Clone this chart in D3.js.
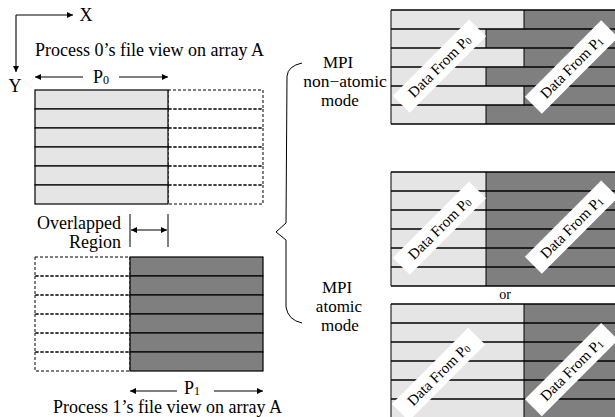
<!DOCTYPE html>
<html lang="en">
<head>
<meta charset="UTF-8">
<title>MPI atomic vs non-atomic file views</title>
<script src="https://d3js.org/d3.v7.min.js"></script>
<style>
  body { margin: 0; background: #fff; }
  svg text { font-family: "Liberation Serif", "Times New Roman", "DejaVu Serif", serif; fill: #000; }
</style>
</head>
<body>
<svg id="fig" width="615" height="417" font-family="Liberation Serif, Times New Roman, serif"></svg>
<script>
// array A: 12 columns x 6 rows, P0 covers columns 0..7, P1 covers 5..12
const nCols = 12;
const nRows = 6;
const p0Span = [0, 7];
const p1Span = [5, 12];
// who owns the overlapped columns in each row (0 = P0, 1 = P1)
const nonAtomicOwner = [0, 1, 0, 1, 0, 1];
const atomicOwnerA = [1, 1, 1, 1, 1, 1];
const atomicOwnerB = [0, 0, 0, 0, 0, 0];
// label centres in (column, row) units for each result grid
const labelSpots = [
  [[2.55, 2.95], [9.5, 3.0]],
  [[2.55, 2.95], [9.5, 2.9]],
  [[2.5, 3.7], [9.5, 3.45]]
];

const light = "#e5e5e5", dark = "#7f7f7f";
const svg = d3.select("#fig");
const x = d3.scaleLinear().domain([0, nCols]).range([0, 228]);
const y = d3.scaleLinear().domain([0, nRows]).range([0, 114]);

const defs = svg.append("defs");
defs.append("marker").attr("id", "ah")
  .attr("viewBox", "0 0 10 10").attr("refX", 10).attr("refY", 5)
  .attr("markerWidth", 10).attr("markerHeight", 6).attr("markerUnits", "userSpaceOnUse")
  .attr("orient", "auto-start-reverse")
  .append("path").attr("d", "M0,0 L10,5 L0,10 z").attr("fill", "#000");

function arrow(x1, y1, x2, y2, both) {
  const p = svg.append("line").attr("x1", x1).attr("y1", y1).attr("x2", x2).attr("y2", y2)
    .attr("stroke", "#000").attr("stroke-width", 1.1).attr("marker-end", "url(#ah)");
  if (both) p.attr("marker-start", "url(#ah)");
}
function label(tx, ty, str, size, anchor) {
  return svg.append("text").attr("x", tx).attr("y", ty).attr("font-size", size)
    .attr("text-anchor", anchor || "start").text(str);
}
function pLabel(cx, ty, sub) {
  const t = svg.append("text").attr("x", cx).attr("y", ty).attr("font-size", 18).attr("text-anchor", "middle");
  t.append("tspan").text("P");
  t.append("tspan").attr("font-size", 12).attr("dy", 1).text(sub);
}

// ---- left: file views of each process
function viewGrid(ox, oy, span, fill) {
  const g = svg.append("g").attr("transform", `translate(${ox},${oy})`);
  const rows = d3.range(nRows);
  // dashed part (outside the process view)
  const outside = span[0] === 0 ? [span[1], nCols] : [0, span[0]];
  g.selectAll("rect.out").data(rows).enter().append("rect")
    .attr("x", x(outside[0])).attr("y", d => y(d))
    .attr("width", x(outside[1]) - x(outside[0])).attr("height", y(1))
    .attr("fill", "none").attr("stroke", "#000").attr("stroke-width", 1)
    .attr("stroke-dasharray", "3,2");
  g.selectAll("rect.in").data(rows).enter().append("rect")
    .attr("x", x(span[0])).attr("y", d => y(d))
    .attr("width", x(span[1]) - x(span[0])).attr("height", y(1))
    .attr("fill", fill).attr("stroke", "#000").attr("stroke-width", 1.2);
}
viewGrid(35, 90, p0Span, light);
viewGrid(35, 257, p1Span, dark);

// axes X / Y
arrow(16, 15, 73, 15);
arrow(16, 15, 16, 72);
label(86, 21, "X", 18, "middle");
label(15, 92, "Y", 18, "middle");

label(35, 56, "Process 0\u2019s file view on array A", 18);
arrow(83, 77, 35 + x(p0Span[0]), 77);
arrow(119, 77, 35 + x(p0Span[1]), 77);
pLabel(101, 83, "0");

// overlapped region marker
const ovL = 35 + x(p1Span[0]), ovR = 35 + x(p0Span[1]);
[ovL, ovR].forEach(v => svg.append("line").attr("x1", v).attr("x2", v).attr("y1", 214).attr("y2", 247)
  .attr("stroke", "#000").attr("stroke-width", 1));
arrow(ovL + 1, 230, ovR - 1, 230, true);
label(121, 229, "Overlapped", 18, "end");
label(121, 248, "Region", 18, "end");

arrow(177, 391, ovL, 391);
arrow(214, 391, 35 + x(p1Span[1]), 391);
pLabel(192, 394, "1");
label(53, 413, "Process 1\u2019s file view on array A", 18);

// ---- brace and mode labels
svg.append("path")
  .attr("d", "M302,63 Q288,66 287,76 L286,223 L276,232 L286,240 L286,307 Q288,320 302,323")
  .attr("fill", "none").attr("stroke", "#000").attr("stroke-width", 1);
label(338, 68, "MPI", 17, "middle");
label(345, 87, "non\u2212atomic", 17.5, "middle");
label(340, 106, "mode", 17, "middle");
label(337, 293, "MPI", 17, "middle");
label(339, 312, "atomic", 17, "middle");
label(340, 331, "mode", 17, "middle");
label(505, 299, "or", 14, "middle");

// ---- right: resulting file contents
function resultGrid(ox, oy, owners, spots) {
  const g = svg.append("g").attr("transform", `translate(${ox},${oy})`);
  const split = owners.map(o => o === 0 ? p0Span[1] : p1Span[0]);
  g.selectAll("rect.a").data(split).enter().append("rect")
    .attr("x", x(0)).attr("y", (d, i) => y(i))
    .attr("width", d => x(d)).attr("height", y(1)).attr("fill", light);
  g.selectAll("rect.b").data(split).enter().append("rect")
    .attr("x", d => x(d)).attr("y", (d, i) => y(i))
    .attr("width", d => x(nCols) - x(d)).attr("height", y(1)).attr("fill", dark);
  g.selectAll("line.v").data(split).enter().append("line")
    .attr("x1", d => x(d)).attr("x2", d => x(d))
    .attr("y1", (d, i) => y(i)).attr("y2", (d, i) => y(i + 1))
    .attr("stroke", "#000").attr("stroke-width", 1);
  g.selectAll("line.h").data(d3.range(nRows + 1)).enter().append("line")
    .attr("x1", x(0)).attr("x2", x(nCols)).attr("y1", d => y(d)).attr("y2", d => y(d))
    .attr("stroke", "#000").attr("stroke-width", 1.3);
  g.append("line").attr("x1", x(0)).attr("x2", x(0)).attr("y1", y(0)).attr("y2", y(nRows))
    .attr("stroke", "#000").attr("stroke-width", 1);

  spots.forEach((s, k) => {
    const lg = g.append("g").attr("transform", `translate(${x(s[0])},${y(s[1])}) rotate(-45)`);
    lg.append("rect").attr("x", -54).attr("y", -12).attr("width", 108).attr("height", 24).attr("fill", "#fff");
    const t = lg.append("text").attr("text-anchor", "middle").attr("y", 5).attr("font-size", 15);
    t.append("tspan").text("Data From P");
    t.append("tspan").attr("font-size", 10).attr("dy", 1).text(String(k));
  });
}
resultGrid(391, 10, nonAtomicOwner, labelSpots[0]);
resultGrid(391, 172, atomicOwnerA, labelSpots[1]);
resultGrid(391, 304, atomicOwnerB, labelSpots[2]);
</script>
</body>
</html>
